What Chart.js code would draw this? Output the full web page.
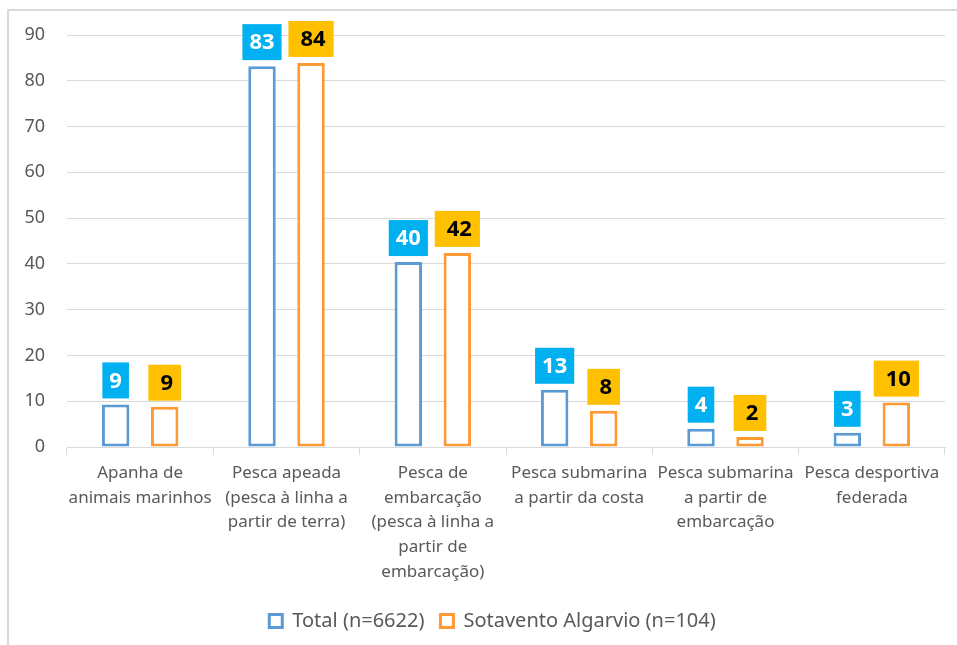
<!DOCTYPE html>
<html>
<head>
<meta charset="utf-8">
<script src="https://cdn.jsdelivr.net/npm/chart.js@4/dist/chart.umd.min.js"></script>
<style>
  html, body { margin: 0; padding: 0; background: #fff; }
  #wrap { position: relative; width: 957px; height: 645px; overflow: hidden; }
  #frame { position: absolute; left: 7px; top: 9px; width: 1000px; height: 700px; border: 2px solid #d9d9d9; box-sizing: border-box; }
  canvas { position: absolute; left: 0; top: 0; }
</style>
</head>
<body>
<div id="wrap">
  <div id="frame"></div>
  <canvas id="grafico" width="957" height="645"></canvas>
</div>
<script>
// categorias (rótulos do eixo X, em várias linhas)
const categorias = [
  ['Apanha de', 'animais marinhos'],
  ['Pesca apeada', '(pesca à linha a', 'partir de terra)'],
  ['Pesca de', 'embarcação', '(pesca à linha a', 'partir de', 'embarcação)'],
  ['Pesca submarina', 'a partir da costa'],
  ['Pesca submarina', 'a partir de', 'embarcação'],
  ['Pesca desportiva', 'federada']
];

// valores das barras
const valoresTotal = [9.3, 83.2, 40.4, 12.5, 4.0, 3.1];
const valoresSotavento = [8.8, 83.9, 42.4, 7.9, 2.2, 9.7];

// rótulos de dados mostrados por cima das barras
const rotulosTotal = ['9', '83', '40', '13', '4', '3'];
const rotulosSotavento = ['9', '84', '42', '8', '2', '10'];

// marcas do eixo Y
const marcasY = [0, 10, 20, 30, 40, 50, 60, 70, 80, 90];

const cinza = '#595959';
const fonte = '"Noto Sans", sans-serif';

// plugin que desenha os rótulos em caixas coloridas
const rotulosPlugin = {
  id: 'rotulos',
  afterDatasetsDraw(chart) {
    const ctx = chart.ctx;
    const estilos = [
      { textos: rotulosTotal, fundo: '#00b0f0', cor: '#ffffff', padX: 7, dx: 0 },
      { textos: rotulosSotavento, fundo: '#ffc000', cor: '#000000', padX: 10, dx: 2 }
    ];
    ctx.save();
    ctx.font = 'bold 22px ' + fonte;
    ctx.textAlign = 'center';
    ctx.textBaseline = 'middle';
    chart.data.datasets.forEach((ds, i) => {
      const meta = chart.getDatasetMeta(i);
      const e = estilos[i];
      meta.data.forEach((bar, j) => {
        const txt = e.textos[j];
        const w = ctx.measureText(txt).width + e.padX * 2;
        const h = 36;
        const bottom = bar.y - 6;
        ctx.fillStyle = e.fundo;
        ctx.fillRect(bar.x - w / 2, bottom - h, w, h);
        ctx.fillStyle = e.cor;
        ctx.fillText(txt, bar.x + e.dx, bottom - h / 2 + 1);
      });
    });
    ctx.restore();
  }
};

// desloca a legenda um pouco para a direita, como no original
const legendaPlugin = {
  id: 'legendaDesloc',
  afterLayout(chart) {
    if (chart.legend) {
      chart.legend.left += 20;
      chart.legend.right += 20;
    }
  }
};

new Chart(document.getElementById('grafico').getContext('2d'), {
  type: 'bar',
  data: {
    labels: categorias,
    datasets: [{
      label: 'Total (n=6622)',
      data: valoresTotal,
      backgroundColor: '#ffffff',
      borderColor: '#5b9bd5',
      borderWidth: 3,
      borderSkipped: false,
      categoryPercentage: 0.67,
      barPercentage: 0.56
    }, {
      label: 'Sotavento Algarvio (n=104)',
      data: valoresSotavento,
      backgroundColor: '#ffffff',
      borderColor: '#ff9933',
      borderWidth: 3,
      borderSkipped: false,
      categoryPercentage: 0.67,
      barPercentage: 0.56
    }]
  },
  options: {
    responsive: false,
    animation: false,
    layout: { padding: { top: 35, right: 12, bottom: 4, left: 0 } },
    plugins: {
      tooltip: { enabled: false },
      legend: {
        position: 'bottom',
        labels: {
          usePointStyle: true,
          pointStyle: 'rect',
          boxWidth: 13,
          boxHeight: 13,
          padding: 16,
          color: cinza,
          font: { family: fonte, size: 20 }
        }
      }
    },
    scales: {
      x: {
        grid: {
          display: true,
          drawOnChartArea: false,
          drawTicks: true,
          tickLength: 8,
          color: '#d9d9d9',
          offset: true
        },
        border: { color: '#d9d9d9', width: 1 },
        ticks: {
          color: cinza,
          padding: 6,
          maxRotation: 0,
          autoSkip: false,
          font: { family: fonte, size: 17, lineHeight: 1.45 }
        },
        afterFit(scale) { scale.height = 148; }
      },
      y: {
        min: 0,
        max: 90,
        afterBuildTicks(scale) { scale.ticks = marcasY.map(v => ({ value: v })); },
        grid: { color: '#d9d9d9', drawTicks: false },
        border: { display: false },
        ticks: {
          color: cinza,
          padding: 22,
          font: { family: fonte, size: 18 }
        },
        afterFit(scale) { scale.width = 67; }
      }
    }
  },
  plugins: [rotulosPlugin, legendaPlugin]
});
</script>
</body>
</html>
